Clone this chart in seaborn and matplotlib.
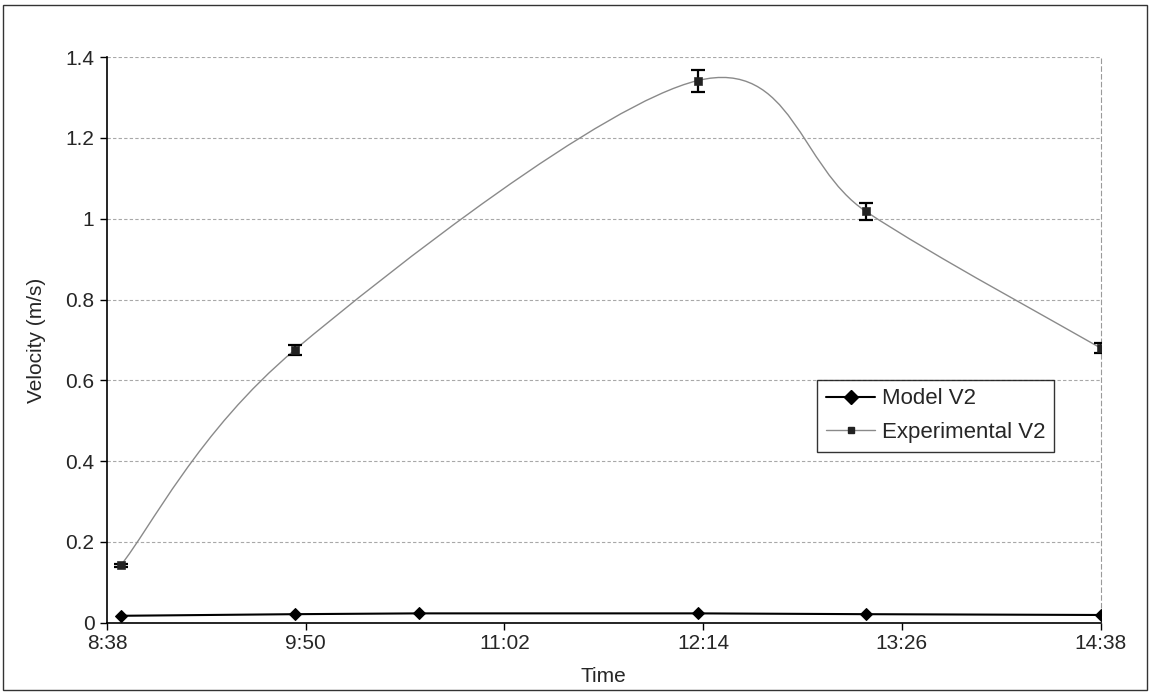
import numpy as np
import seaborn as sns
import matplotlib.pyplot as plt
from matplotlib.path import Path
from matplotlib.patches import PathPatch, Rectangle
from matplotlib.lines import Line2D

# data
model_times = ["8:43", "9:46", "10:31", "12:12", "13:13", "14:38"]
model_v = [0.017, 0.021, 0.023, 0.023, 0.021, 0.019]

exp_times = ["8:43", "9:46", "12:12", "13:13", "14:38"]
exp_v = [0.142, 0.675, 1.342, 1.018, 0.680]
exp_err = [0.004, 0.012, 0.027, 0.020, 0.012]

tick_labels = ["8:38", "9:50", "11:02", "12:14", "13:26", "14:38"]
y_ticks = [0, 0.2, 0.4, 0.6, 0.8, 1, 1.2, 1.4]


def to_min(t):
    h, m = t.split(":")
    return int(h) * 60 + int(m)


def smooth_path(xs, ys):
    # excel style smoothed line (catmull-rom as bezier)
    pts = np.column_stack([xs, ys]).astype(float)
    n = len(pts)
    verts = [pts[0]]
    codes = [Path.MOVETO]
    for i in range(n - 1):
        p0 = pts[max(i - 1, 0)]
        p1 = pts[i]
        p2 = pts[i + 1]
        p3 = pts[min(i + 2, n - 1)]
        verts += [p1 + (p2 - p0) / 6, p2 - (p3 - p1) / 6, p2]
        codes += [Path.CURVE4] * 3
    return Path(verts, codes)


mx = [to_min(t) for t in model_times]
ex = [to_min(t) for t in exp_times]
tx = [to_min(t) for t in tick_labels]

sns.set_style("white")
plt.rcParams["font.family"] = ["Liberation Sans", "DejaVu Sans"]

fig = plt.figure(figsize=(11.5, 6.93), dpi=100)
ax = fig.add_axes([0.093, 0.1015, 0.864, 0.816])

# experimental: smooth gray curve + markers + error bars
ax.add_patch(PathPatch(smooth_path(ex, exp_v), facecolor="none",
                       edgecolor="#8a8a8a", lw=1.0, zorder=2))
ax.errorbar(ex, exp_v, yerr=exp_err, fmt="none", ecolor="black",
            elinewidth=1.6, capsize=5, capthick=1.6, zorder=3)
sns.scatterplot(x=ex, y=exp_v, marker="s", s=30, color="#222222",
                edgecolor="#222222", ax=ax, zorder=4)

# model
sns.lineplot(x=mx, y=model_v, color="black", lw=1.5, marker="D",
             markersize=6.5, markeredgecolor="black", ax=ax, zorder=4)

ax.set_xlim(tx[0], tx[-1])
ax.set_ylim(0, 1.4)
ax.set_xticks(tx)
ax.set_xticklabels(tick_labels)
ax.set_yticks(y_ticks)
ax.set_yticklabels([f"{v:g}" for v in y_ticks])
ax.tick_params(axis="both", labelsize=15, direction="out", length=5,
               width=1, color="black", pad=4)
ax.tick_params(axis="x", pad=3)
ax.xaxis.set_ticks_position("bottom")
ax.yaxis.set_ticks_position("left")

ax.yaxis.grid(True, color="#a8a8a8", lw=0.8, ls=(0, (3, 2)))
ax.set_axisbelow(True)

ax.spines["top"].set_visible(False)
ax.spines["left"].set_color("black")
ax.spines["bottom"].set_color("black")
ax.spines["left"].set_linewidth(1.2)
ax.spines["bottom"].set_linewidth(1.2)
ax.spines["right"].set_color("#9a9a9a")
ax.spines["right"].set_linestyle((0, (4, 3)))
ax.spines["right"].set_linewidth(0.8)

ax.set_xlabel("Time", fontsize=15, labelpad=10)
ax.set_ylabel("Velocity (m/s)", fontsize=15, labelpad=14)

handles = [
    Line2D([], [], color="black", lw=1.5, marker="D", markersize=7),
    Line2D([], [], color="#8a8a8a", lw=1.0, marker="s", markersize=5,
           markerfacecolor="#222222", markeredgecolor="#222222"),
]
leg = ax.legend(handles, ["Model V2", "Experimental V2"], loc="upper left",
                bbox_to_anchor=(0.715, 0.43), fontsize=16, frameon=True,
                fancybox=False, handlelength=2.2, handletextpad=0.3,
                borderpad=0.4, labelspacing=0.55, borderaxespad=0)
leg.get_frame().set_edgecolor("black")
leg.get_frame().set_linewidth(1.0)

# outer chart border
fig.patches.append(Rectangle((0.003, 0.004), 0.994, 0.989, transform=fig.transFigure,
                             fill=False, edgecolor="#333333", lw=1.0))

fig.savefig("out.png", dpi=100)
